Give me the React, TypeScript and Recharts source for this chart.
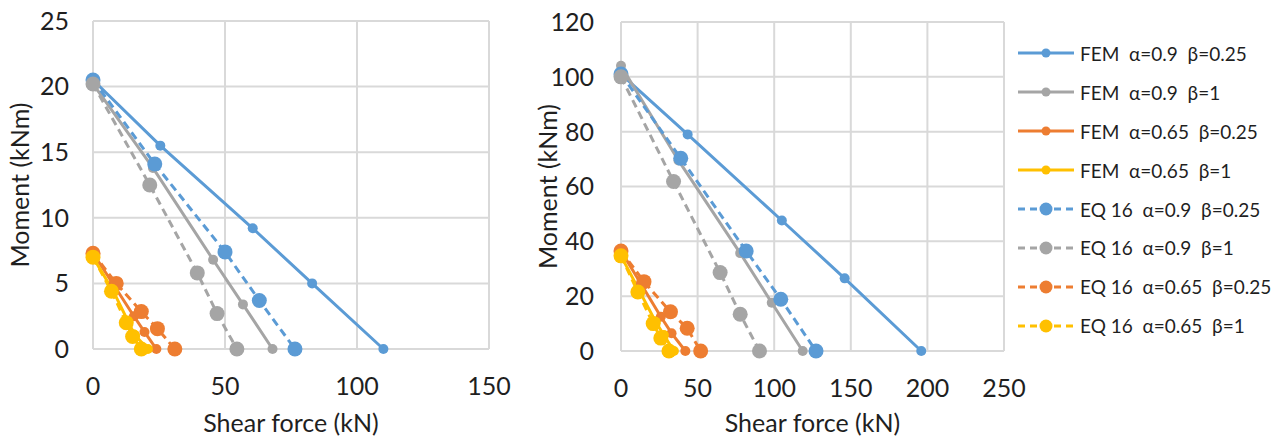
import { LineChart, Line, XAxis, YAxis, CartesianGrid } from 'recharts';

// left panel: [shear (kN), moment (kNm)]
const leftFem09b025: [number, number][] = [[0, 20.5], [25.5, 15.5], [60.5, 9.2], [83, 5.0], [110, 0]];
const leftFem09b1: [number, number][] = [[0, 20.2], [22.7, 13.8], [45.5, 6.8], [56.8, 3.4], [68, 0]];
const leftFem065b025: [number, number][] = [[0, 7.3], [7.8, 4.9], [15.5, 2.5], [19.5, 1.3], [24, 0]];
const leftFem065b1: [number, number][] = [[0, 7.0], [7.6, 4.45], [13.3, 2.1], [15.8, 1.07], [20.8, 0]];
const leftEq09b025: [number, number][] = [[0, 20.5], [23.4, 14.1], [50, 7.4], [63, 3.7], [76.5, 0]];
const leftEq09b1: [number, number][] = [[0, 20.2], [21.5, 12.5], [39.5, 5.8], [47, 2.7], [54.5, 0]];
const leftEq065b025: [number, number][] = [[0, 7.3], [8.8, 5.0], [18.3, 2.85], [24.4, 1.55], [31, 0]];
const leftEq065b1: [number, number][] = [[0, 7.0], [7.0, 4.4], [12.6, 2.0], [15, 0.95], [18.3, 0]];

// right panel
const rightFem09b025: [number, number][] = [[0, 101], [43.5, 79], [105, 47.6], [146, 26.5], [196, 0]];
const rightFem09b1: [number, number][] = [[0, 104], [37.5, 69.5], [77.8, 35.7], [98.4, 17.6], [118.6, 0]];
const rightFem065b025: [number, number][] = [[0, 36.5], [13, 24.5], [26, 12.5], [33, 6.5], [42, 0]];
const rightFem065b1: [number, number][] = [[0, 34.7], [11.7, 22.3], [22.6, 10.7], [28, 5.8], [34.5, 0]];
const rightEq09b025: [number, number][] = [[0, 101], [39, 70.3], [81.7, 36.5], [104.3, 18.9], [127.3, 0]];
const rightEq09b1: [number, number][] = [[0, 100], [34.3, 61.8], [64.7, 28.6], [77.8, 13.4], [90.4, 0]];
const rightEq065b025: [number, number][] = [[0, 36.5], [15, 25.3], [32.3, 14.3], [43.2, 8.3], [52, 0]];
const rightEq065b1: [number, number][] = [[0, 34.7], [11, 21.5], [21, 10], [26, 4.7], [31.3, 0]];

const seriesLabels = [
  'FEM  α=0.9  β=0.25',
  'FEM  α=0.9  β=1',
  'FEM  α=0.65  β=0.25',
  'FEM  α=0.65  β=1',
  'EQ 16  α=0.9  β=0.25',
  'EQ 16  α=0.9  β=1',
  'EQ 16  α=0.65  β=0.25',
  'EQ 16  α=0.65  β=1',
];
const seriesColors = ['#5B9BD5', '#A5A5A5', '#ED7D31', '#FFC000', '#5B9BD5', '#A5A5A5', '#ED7D31', '#FFC000'];
const seriesDashed = [false, false, false, false, true, true, true, true];

const leftSeries = [leftFem09b025, leftFem09b1, leftFem065b025, leftFem065b1, leftEq09b025, leftEq09b1, leftEq065b025, leftEq065b1];
const rightSeries = [rightFem09b025, rightFem09b1, rightFem065b025, rightFem065b1, rightEq09b025, rightEq09b1, rightEq065b025, rightEq065b1];

const leftXTicks = [0, 50, 100, 150];
const leftYTicks = [0, 5, 10, 15, 20, 25];
const rightXTicks = [0, 50, 100, 150, 200, 250];
const rightYTicks = [0, 20, 40, 60, 80, 100, 120];

const FONT = 'Lato, "Open Sans", sans-serif';
const TEXT = '#1f1f1f';
const GRID = '#D9D9D9';
const FS = 25;

interface PanelProps {
  series: [number, number][][];
  xTicks: number[];
  yTicks: number[];
  width: number;
  yAxisWidth: number;
  top: number;
  right: number;
  xAxisHeight: number;
  yTickMargin: number;
  yLabelOffset: number;
}

function Panel({ series, xTicks, yTicks, width, yAxisWidth, top, right, xAxisHeight, yTickMargin, yLabelOffset }: PanelProps) {
  const tickStyle = { fontSize: FS, fill: TEXT, fontFamily: FONT };
  return (
    <LineChart width={width} height={441} margin={{ top, right, bottom: 0, left: 0 }}>
      <CartesianGrid stroke={GRID} strokeWidth={2} />
      <XAxis
        type="number"
        dataKey="v"
        domain={[xTicks[0], xTicks[xTicks.length - 1]]}
        ticks={xTicks}
        height={xAxisHeight}
        axisLine={false}
        tickLine={false}
        tickSize={0}
        tickMargin={28}
        tick={tickStyle}
        label={{ value: 'Shear force (kN)', position: 'insideBottom', offset: 9, fontSize: FS, fill: TEXT, fontFamily: FONT }}
      />
      <YAxis
        type="number"
        domain={[yTicks[0], yTicks[yTicks.length - 1]]}
        ticks={yTicks}
        width={yAxisWidth}
        axisLine={false}
        tickLine={false}
        tickSize={0}
        tickMargin={yTickMargin}
        tick={tickStyle}
        label={{
          value: 'Moment (kNm)',
          angle: -90,
          position: 'insideLeft',
          offset: yLabelOffset,
          fontSize: FS,
          fill: TEXT,
          fontFamily: FONT,
          style: { textAnchor: 'middle' },
        }}
      />
      {series.map((pts, i) => (
        <Line
          key={seriesLabels[i]}
          data={pts.map(([v, m]) => ({ v, m }))}
          dataKey="m"
          type="linear"
          stroke={seriesColors[i]}
          strokeWidth={3}
          strokeDasharray={seriesDashed[i] ? '8 5' : undefined}
          dot={{ r: seriesDashed[i] ? 7.5 : 5, fill: seriesColors[i], stroke: 'none', strokeDasharray: '0' }}
          isAnimationActive={false}
        />
      ))}
    </LineChart>
  );
}

function LegendBox() {
  return (
    <div style={{ position: 'absolute', left: 1018, top: 34, fontFamily: FONT, fontSize: 19, color: TEXT }}>
      {seriesLabels.map((label, i) => (
        <div key={label} style={{ display: 'flex', alignItems: 'center', height: 38.9 }}>
          <svg width={56} height={20} style={{ marginRight: 6 }}>
            <line
              x1={0}
              y1={10}
              x2={56}
              y2={10}
              stroke={seriesColors[i]}
              strokeWidth={3}
              strokeDasharray={seriesDashed[i] ? '7 5' : undefined}
            />
            <circle cx={28} cy={10} r={seriesDashed[i] ? 6.5 : 4.5} fill={seriesColors[i]} />
          </svg>
          <span style={{ whiteSpace: 'pre' }}>{label}</span>
        </div>
      ))}
    </div>
  );
}

export default function App() {
  return (
    <div style={{ position: 'absolute', left: 0, top: 0, width: 1284, height: 441, background: '#fff', overflow: 'hidden' }}>
      <div style={{ position: 'absolute', left: 0, top: 0 }}>
        <Panel
          series={leftSeries}
          xTicks={leftXTicks}
          yTicks={leftYTicks}
          width={520}
          yAxisWidth={93}
          top={21}
          right={31}
          xAxisHeight={92}
          yTickMargin={24}
          yLabelOffset={20}
        />
      </div>
      <div style={{ position: 'absolute', left: 530, top: 0 }}>
        <Panel
          series={rightSeries}
          xTicks={rightXTicks}
          yTicks={rightYTicks}
          width={520}
          yAxisWidth={91}
          top={22}
          right={46}
          xAxisHeight={90}
          yTickMargin={27}
          yLabelOffset={18}
        />
      </div>
      <LegendBox />
    </div>
  );
}
